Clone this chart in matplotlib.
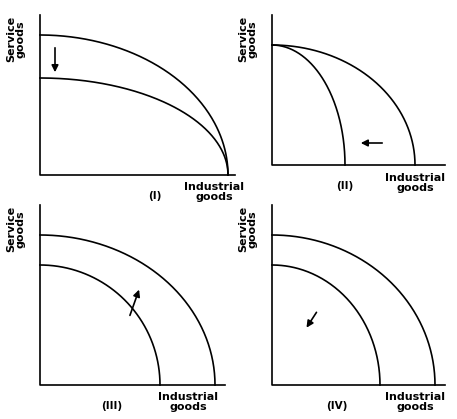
import numpy as np
import matplotlib.pyplot as plt

# panel data in pixel space of the original picture
# origin (x0, y0), axis ends, curve intercepts (x_int, y_int)
panels = ["(I)", "(II)", "(III)", "(IV)"]
origins = [(40, 175), (272, 165), (40, 385), (272, 385)]
axis_tops = [15, 15, 205, 205]
axis_rights = [235, 445, 225, 445]
outer_curves = [(188, 140), (143, 120), (175, 150), (163, 150)]
inner_curves = [(188, 97), (73, 120), (120, 120), (108, 120)]
arrows = [((55, 45), (55, 75)), ((385, 143), (358, 143)),
          ((129, 318), (140, 287)), ((318, 310), (305, 330))]
label_pos = [(155, 196), (345, 186), (112, 406), (337, 406)]
ind_pos = [(214, 192), (415, 183), (188, 402), (415, 402)]

fig = plt.figure(figsize=(4.57, 4.19), dpi=100)
ax = fig.add_axes([0, 0, 1, 1])
ax.set_xlim(0, 457)
ax.set_ylim(419, 0)
ax.axis("off")

t = np.linspace(0, np.pi / 2, 200)
for i in range(4):
    x0, y0 = origins[i]
    ax.plot([x0, x0, axis_rights[i]], [axis_tops[i], y0, y0], color="black", lw=1.2)
    for a, b in (outer_curves[i], inner_curves[i]):
        ax.plot(x0 + a * np.cos(t), y0 - b * np.sin(t), color="black", lw=1.2)
    (sx, sy), (ex, ey) = arrows[i]
    ax.annotate("", xy=(ex, ey), xytext=(sx, sy),
                arrowprops=dict(arrowstyle="-|>", color="black", lw=1.2, mutation_scale=10))
    ax.text(label_pos[i][0], label_pos[i][1], panels[i], ha="center", va="center",
            fontsize=7.5, fontweight="bold")
    ax.text(ind_pos[i][0], ind_pos[i][1], "Industrial\ngoods", ha="center", va="center",
            fontsize=8, fontweight="bold", linespacing=1.0)
    ax.text(x0 - 24, axis_tops[i] + 24, "Service\ngoods", ha="center", va="center",
            rotation=90, fontsize=8, fontweight="bold", linespacing=1.0)

fig.savefig("out.png", dpi=100)
